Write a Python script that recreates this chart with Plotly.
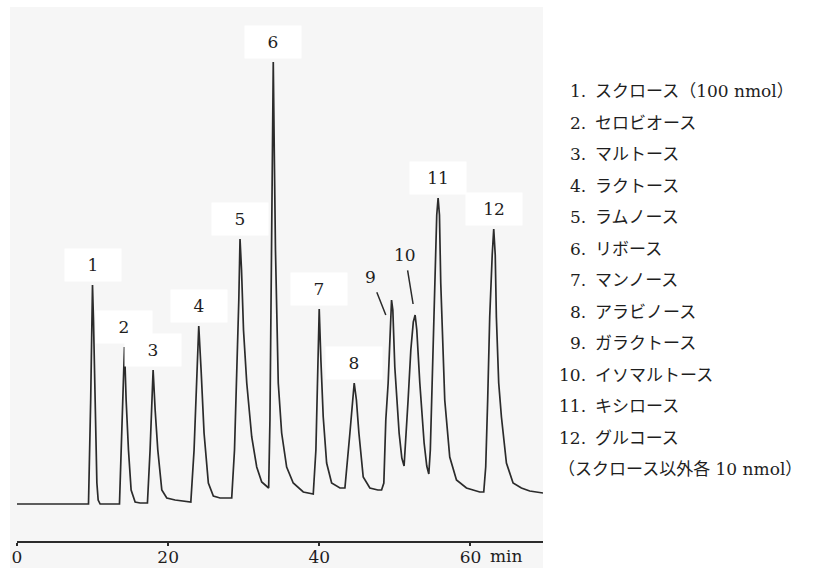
import plotly.graph_objects as go

# ---- data ----
retention_min = [
    0.0, 9.46, 9.75, 9.92, 9.99, 10.12, 10.35, 10.57, 10.74, 11.0,
    13.56, 13.85, 14.09, 14.22, 14.44, 14.75, 15.1, 15.63, 16.29, 16.96,
    17.26, 17.61, 17.88, 18.01, 18.28, 18.63, 19.16, 19.82, 20.92, 22.68,
    23.0, 23.43, 23.83, 24.05, 24.36, 24.75, 25.32, 25.98, 26.87, 28.19,
    28.41, 28.78, 29.07, 29.35, 29.51, 29.71, 29.97, 30.4, 31.06, 31.72, 32.38, 33.04,
    33.3, 33.47, 33.6, 33.78, 33.91, 34.04, 34.2, 34.57, 35.02, 35.68, 36.55, 37.88,
    39.2, 39.55, 39.82, 39.99, 40.21, 40.52, 40.97, 41.63, 42.73,
    43.39, 44.05, 44.38, 44.62, 44.91, 45.24, 45.81, 46.69, 47.75,
    48.24, 48.54, 48.8, 49.11, 49.4, 49.56, 49.73, 49.99, 50.56, 50.92,
    51.22, 51.45, 51.75, 52.11, 52.44, 52.68, 52.9, 53.3, 53.87, 54.22,
    54.49, 54.69, 54.92, 55.28, 55.54, 55.72, 55.9, 56.07, 56.34, 56.6, 57.26, 58.15, 59.47, 61.23,
    61.76, 62.02, 62.28, 62.55, 62.88, 63.08, 63.28, 63.43, 63.74, 64.1, 64.76, 65.64, 66.74, 67.84, 69.6,
]
signal = [
    0, 0, 104, 204, 219, 184, 84, 21, 4, 0,
    0, 64, 124, 157, 104, 54, 14, 2, 1, 1,
    1, 54, 114, 134, 94, 54, 14, 6, 4, 2,
    2, 54, 134, 178, 134, 71, 21, 8, 6, 6,
    6, 54, 121, 204, 265, 234, 174, 121, 67, 37, 22, 17,
    16, 84, 204, 354, 442, 354, 254, 121, 71, 37, 21, 12,
    10, 54, 134, 195, 144, 87, 41, 21, 16,
    16, 71, 104, 121, 104, 71, 27, 16, 14,
    14, 21, 84, 121, 184, 204, 194, 137, 71, 46,
    38, 64, 104, 154, 182, 189, 174, 121, 61, 38,
    30, 54, 121, 221, 289, 306, 289, 221, 154, 104, 47, 24, 16, 12,
    12, 37, 104, 187, 249, 275, 249, 187, 121, 87, 41, 21, 16, 13, 11,
]

peak_numbers = ["1", "2", "3", "4", "5", "6", "7", "8", "9", "10", "11", "12"]
peak_rt = [9.99, 14.22, 18.01, 24.05, 29.51, 33.91, 39.99, 44.62, 49.56, 52.68, 55.72, 63.08]
peak_height = [219, 157, 134, 178, 265, 442, 195, 121, 204, 189, 306, 275]

sugar_names = [
    "スクロース（100 nmol）", "セロビオース", "マルトース", "ラクトース",
    "ラムノース", "リボース", "マンノース", "アラビノース",
    "ガラクトース", "イソマルトース", "キシロース", "グルコース",
]
note_text = "（スクロース以外各 10 nmol）"

tick_vals = [0, 20, 40, 60]
tick_text = ["0", "20", "40", "60"]

# ---- layout geometry (pixels) ----
W, H = 839, 568
ML, MR, MT, MB = 17, 296, 7, 27
PW, PH = W - ML - MR, H - MT - MB


def px_x(px):
    return (px - ML) / PW


def px_y(py):
    return (H - MB - py) / PH


SERIF = "DejaVu Serif, Liberation Serif, serif"
JP = "DejaVu Serif, Noto Sans CJK JP, serif"
INK = "#2b2b2b"
TXT = "#1e1e1e"

fig = go.Figure()
fig.add_trace(go.Scatter(
    x=retention_min, y=signal, mode="lines",
    line=dict(color=INK, width=1.7, shape="linear"),
    hoverinfo="skip", showlegend=False,
))

annotations = []
# peak number labels
for lab, rt, h in zip(peak_numbers, peak_rt, peak_height):
    if lab in ("9", "10"):
        continue
    annotations.append(dict(
        x=rt, y=h + 20, xref="x", yref="y", text=lab, showarrow=False,
        font=dict(family=SERIF, size=17, color=TXT),
        bgcolor="white", width=54, height=30, xanchor="center", yanchor="middle",
    ))
# labels 9 and 10 with leader lines
annotations.append(dict(
    x=48.8, y=189, xref="x", yref="y", text="9", showarrow=True,
    ax=-15, ay=-38, arrowhead=0, arrowwidth=1.5, arrowcolor=INK,
    standoff=0, startstandoff=4,
    font=dict(family=SERIF, size=17, color=TXT),
))
annotations.append(dict(
    x=52.41, y=200, xref="x", yref="y", text="10", showarrow=True,
    ax=-8, ay=-49, arrowhead=0, arrowwidth=1.5, arrowcolor=INK,
    standoff=0, startstandoff=4,
    font=dict(family=SERIF, size=17, color=TXT),
))
# "min" unit next to last tick
annotations.append(dict(
    x=64.75, y=px_y(556), xref="x", yref="paper", text="min", showarrow=False,
    font=dict(family=SERIF, size=17, color=TXT), xanchor="center", yanchor="middle",
))
# legend list
y0, dy = 91, 31.5
for i, name in enumerate(sugar_names):
    yy = px_y(y0 + i * dy)
    annotations.append(dict(
        x=px_x(588), y=yy, xref="paper", yref="paper", text=f"{i + 1}.",
        showarrow=False, xanchor="right", yanchor="middle",
        font=dict(family=SERIF, size=17, color=TXT),
    ))
    annotations.append(dict(
        x=px_x(593), y=yy, xref="paper", yref="paper", text=name,
        showarrow=False, xanchor="left", yanchor="middle",
        font=dict(family=JP, size=17, color=TXT),
    ))
annotations.append(dict(
    x=px_x(556), y=px_y(y0 + 12 * dy), xref="paper", yref="paper", text=note_text,
    showarrow=False, xanchor="left", yanchor="middle",
    font=dict(family=JP, size=17, color=TXT),
))

fig.update_layout(
    width=W, height=H,
    margin=dict(l=ML, r=MR, t=MT, b=MB, pad=0),
    paper_bgcolor="white", plot_bgcolor="#f6f6f6",
    showlegend=False,
    xaxis=dict(
        range=[0, 69.6], tickvals=tick_vals, ticktext=tick_text,
        showline=True, linecolor=INK, linewidth=1.5,
        ticks="outside", ticklen=3, tickwidth=1.5, tickcolor=INK,
        showgrid=False, zeroline=False, ticklabelstandoff=-3, automargin=False,
        tickfont=dict(family=SERIF, size=17, color=TXT),
    ),
    yaxis=dict(range=[-37, 497], visible=False, showgrid=False, zeroline=False,
               automargin=False),
    annotations=annotations,
    shapes=[dict(
        type="rect", xref="paper", yref="paper", layer="below",
        x0=px_x(10), x1=1.0, y0=px_y(568), y1=1.0,
        fillcolor="#f6f6f6", line=dict(width=0),
    )],
)

fig.write_html("out.html")
